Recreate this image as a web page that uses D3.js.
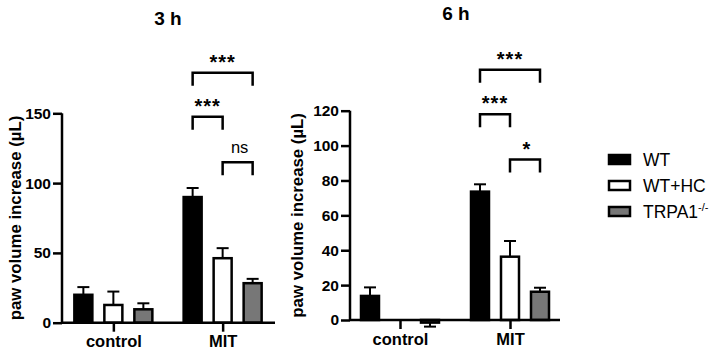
<!DOCTYPE html>
<html>
<head>
<meta charset="utf-8">
<script src="https://cdn.jsdelivr.net/npm/d3@7"></script>
<style>
  body { margin: 0; background: #fff; }
  text { font-family: "Liberation Sans", Arial, sans-serif; }
</style>
</head>
<body>
<div id="chart-area"></div>
<script>
// data
var groups = ["control", "MIT"];
var series = ["WT", "WT+HC", "TRPA1"];
var seriesFill = ["#000000", "#ffffff", "#777777"];

// 3 h
var mean3h = [[20, 12.7, 9.6], [90, 46.2, 28.3]];
var sem3h  = [[5.5, 9.6, 4.3], [6.5, 7.2, 3.1]];
var ticks3h = [0, 50, 100, 150];
// [group, series a, series b, y level, label]
var sig3h = [[1, 0, 2, 179, "***"], [1, 0, 1, 147.5, "***"], [1, 1, 2, 115, "ns"]];

// 6 h
var mean6h = [[13.8, 0, -1.5], [73.6, 36.3, 16.2]];
var sem6h  = [[4.9, 0, 2.3], [4.2, 9, 2.3]];
var ticks6h = [0, 20, 40, 60, 80, 100, 120];
var sig6h = [[1, 0, 2, 143.5, "***"], [1, 0, 1, 118, "***"], [1, 1, 2, 92, "*"]];

var svg = d3.select("#chart-area").append("svg")
    .attr("width", 709)
    .attr("height", 355);

function panel(opt){
    var g = svg.append("g");

    var y = d3.scaleLinear().domain(opt.domain).range([opt.y0, opt.y1]);
    var x = d3.scalePoint().domain(groups).range([opt.x0, opt.x1]).padding(opt.pad);
    var xs = d3.scalePoint().domain(series).range([-30, 30]);

    //bars
    opt.mean.forEach(function(row, gi){
        row.forEach(function(v, si){
            var cx = x(groups[gi]) + xs(series[si]);
            if (v === 0) return;
            var e = opt.sem[gi][si];
            var ye = v >= 0 ? v + e : v - e;
            g.append("line")
                .attr("x1", cx).attr("x2", cx)
                .attr("y1", y(v)).attr("y2", y(ye))
                .attr("stroke", "#000").attr("stroke-width", 2);
            g.append("line")
                .attr("x1", cx - 6).attr("x2", cx + 6)
                .attr("y1", y(ye)).attr("y2", y(ye))
                .attr("stroke", "#000").attr("stroke-width", 2);
            g.append("rect")
                .attr("x", cx - 9)
                .attr("width", 18)
                .attr("y", Math.min(y(v), y(0)))
                .attr("height", Math.abs(y(v) - y(0)))
                .attr("fill", seriesFill[si])
                .attr("stroke", "#000")
                .attr("stroke-width", 2.5);
        });
    });

    //y axis
    var yAxis = g.append("g")
        .attr("transform", "translate(" + opt.x0 + ",0)")
        .call(d3.axisLeft(y).tickValues(opt.ticks).tickSize(9).tickPadding(2));
    yAxis.select(".domain").attr("stroke-width", 2.5)
        .attr("d", "M0," + y(opt.ticks[opt.ticks.length - 1]) + "V" + y(0));
    yAxis.selectAll(".tick line").attr("stroke-width", 2.5);
    yAxis.selectAll("text")
        .attr("font-family", "Liberation Sans, Arial, sans-serif")
        .attr("font-size", "15.5px").attr("font-weight", "bold").attr("fill", "#000");

    //x axis
    var xAxis = g.append("g")
        .attr("transform", "translate(0," + y(0) + ")")
        .call(d3.axisBottom(x).tickSize(9).tickPadding(4));
    xAxis.select(".domain").attr("stroke-width", 2.5)
        .attr("d", "M" + opt.x0 + ",0H" + opt.xEnd);
    xAxis.selectAll(".tick line").attr("stroke-width", 2.5);
    xAxis.selectAll("text")
        .attr("font-family", "Liberation Sans, Arial, sans-serif")
        .attr("font-size", "16.5px").attr("font-weight", "bold").attr("fill", "#000");

    //y label
    g.append("text")
        .attr("transform", "translate(" + opt.labelX + "," + ((opt.y0 + y(opt.ticks[opt.ticks.length - 1])) / 2) + ") rotate(-90)")
        .attr("text-anchor", "middle")
        .attr("font-size", "16.8px")
        .attr("font-weight", "bold")
        .text("paw volume increase (µL)");

    //title
    g.append("text")
        .attr("x", opt.titleX).attr("y", opt.titleY)
        .attr("text-anchor", "middle")
        .attr("font-size", "19px")
        .attr("font-weight", "bold")
        .text(opt.title);

    //significance brackets
    opt.sig.forEach(function(s){
        var xa = x(groups[s[0]]) + xs(series[s[1]]);
        var xb = x(groups[s[0]]) + xs(series[s[2]]);
        var yl = y(s[3]);
        g.append("path")
            .attr("d", "M" + xa + "," + (yl + 13) + "V" + yl + "H" + xb + "V" + (yl + 13))
            .attr("fill", "none")
            .attr("stroke", "#000")
            .attr("stroke-width", 2.5);
        g.append("text")
            .attr("x", (xa + xb) / 2 + (s[4] === "***" ? 0 : 2))
            .attr("y", s[4] === "ns" ? yl - 9 : yl - 4)
            .attr("text-anchor", "middle")
            .attr("font-size", s[4] === "ns" ? "16.5px" : "20px")
            .attr("font-weight", s[4] === "ns" ? "normal" : "bold")
            .attr("letter-spacing", s[4] === "ns" ? "0px" : "1px")
            .text(s[4]);
    });
}

panel({domain: [0, 150], y0: 322.7, y1: 113.3, x0: 62, x1: 274, xEnd: 275, pad: 0.47,
       mean: mean3h, sem: sem3h, ticks: ticks3h, sig: sig3h,
       labelX: 21, title: "3 h", titleX: 168, titleY: 25});
panel({domain: [0, 120], y0: 320, y1: 110.7, x0: 350, x1: 560, xEnd: 560, pad: 0.4545,
       mean: mean6h, sem: sem6h, ticks: ticks6h, sig: sig6h,
       labelX: 303, title: "6 h", titleX: 456, titleY: 20});

//legend
var legend = svg.append("g").attr("transform", "translate(609,155)");
series.forEach(function(s, i){
    var row = legend.append("g").attr("transform", "translate(0," + (i * 26) + ")");
    row.append("rect")
        .attr("width", 21).attr("height", 9)
        .attr("fill", seriesFill[i])
        .attr("stroke", "#000").attr("stroke-width", 2.5);
    var t = row.append("text")
        .attr("x", 34).attr("y", 11)
        .attr("font-size", "17.5px");
    if (s === "TRPA1") {
        t.text("TRPA1");
        t.append("tspan").attr("dy", -7).attr("font-size", "11px").text("-/-");
    } else {
        t.text(s);
    }
});
</script>
</body>
</html>
